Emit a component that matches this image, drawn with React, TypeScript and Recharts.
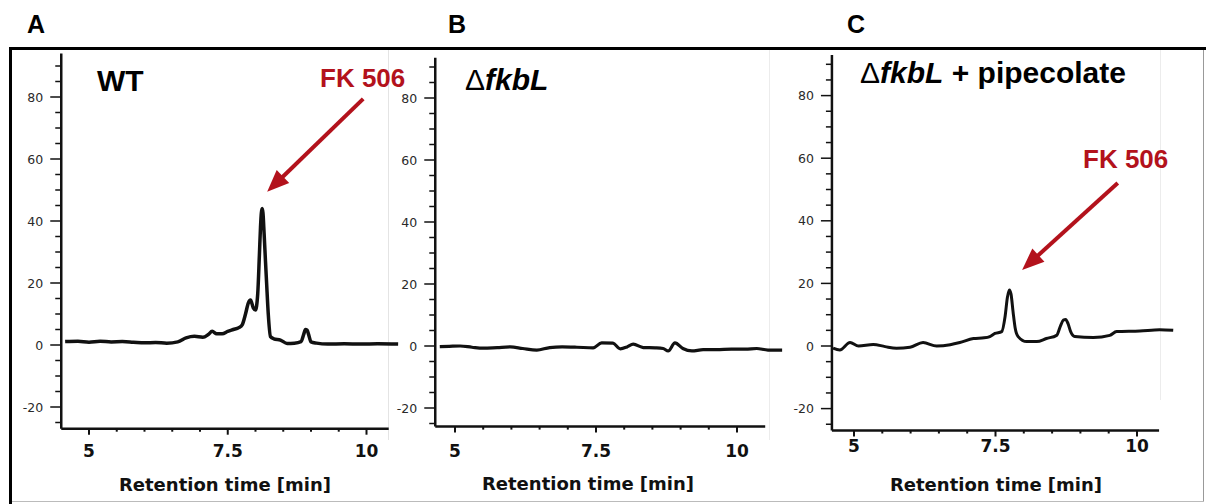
import React from "react";
import { LineChart, Line, XAxis, YAxis, ReferenceLine } from "recharts";

// axis ticks (minor every 5 / 0.5, labels only on majors)
const yTicks = [-25, -20, -15, -10, -5, 0, 5, 10, 15, 20, 25, 30, 35, 40, 45, 50, 55, 60, 65, 70, 75, 80, 85, 90];
const yTickLabels = [-20, 0, 20, 40, 60, 80];
const xTicks = [5, 5.5, 6, 6.5, 7, 7.5, 8, 8.5, 9, 9.5, 10];
const xTickLabels = [5, 7.5, 10];

// A: WT
const wtTime = [4.57, 4.8, 5.0, 5.2, 5.4, 5.6, 5.8, 6.0, 6.2, 6.4, 6.6, 6.75, 6.9, 7.05, 7.15, 7.22, 7.3, 7.4, 7.5, 7.6, 7.7, 7.76, 7.82, 7.87, 7.91, 7.96, 8.0, 8.04, 8.07, 8.09, 8.105, 8.12, 8.135, 8.155, 8.18, 8.2, 8.23, 8.27, 8.33, 8.45, 8.57, 8.7, 8.82, 8.87, 8.9, 8.93, 8.96, 9.0, 9.1, 9.3, 9.6, 9.9, 10.2, 10.57];
const wtSignal = [1.1, 1.2, 0.9, 1.2, 1.0, 1.1, 0.9, 0.7, 0.8, 0.6, 1.0, 2.3, 2.8, 2.5, 3.4, 4.4, 3.6, 3.6, 4.4, 5.0, 5.6, 6.5, 10, 13.5, 14.5, 12, 11.3, 16.5, 29, 38, 42.5, 44, 42.5, 36, 27, 20, 10, 2.7, 2.0, 1.6, 0.5, 0.6, 1.1, 3.5, 5.0, 4.8, 3.2, 1.0, 0.6, 0.3, 0.4, 0.3, 0.4, 0.3];

// B: delta fkbL
const dlTime = [4.73, 4.9, 5.09, 5.3, 5.5, 5.75, 5.98, 6.2, 6.45, 6.68, 6.9, 7.16, 7.45, 7.6, 7.8, 7.93, 8.05, 8.16, 8.34, 8.55, 8.69, 8.78, 8.9, 9.04, 9.2, 9.4, 9.64, 9.9, 10.15, 10.35, 10.55, 10.8];
const dlSignal = [-0.2, -0.1, 0.0, -0.4, -0.7, -0.5, -0.3, -0.8, -1.3, -0.5, -0.3, -0.4, -0.6, 1.0, 0.9, -0.9, -0.3, 0.6, -0.5, -0.6, -0.8, -1.6, 1.0, -0.8, -1.6, -1.2, -1.2, -1.0, -1.0, -0.8, -1.3, -1.3];

// C: delta fkbL + pipecolate
const pipTime = [4.63, 4.75, 4.93, 5.08, 5.34, 5.55, 5.75, 5.99, 6.22, 6.46, 6.7, 6.87, 7.11, 7.3, 7.4, 7.49, 7.61, 7.67, 7.71, 7.745, 7.775, 7.81, 7.85, 7.9, 8.05, 8.23, 8.4, 8.58, 8.65, 8.7, 8.74, 8.78, 8.83, 8.9, 9.23, 9.52, 9.64, 10.05, 10.4, 10.64];
const pipSignal = [-0.7, -1.3, 1.1, 0.0, 0.5, -0.2, -0.7, -0.4, 1.1, 0.0, 0.4, 1.1, 2.4, 2.6, 3.0, 4.0, 4.6, 9.5, 15.5, 17.9, 16.5, 11, 5.5, 3.0, 1.4, 1.4, 2.4, 3.4, 6.5, 8.3, 8.5, 7.2, 4.5, 3.0, 2.7, 3.4, 4.6, 4.8, 5.2, 5.0];

const toRows = (t: number[], v: number[]) => t.map((x, i) => ({ t: x, v: v[i] }));

const RED = "#b3121c";
const SANS = "'Liberation Sans', Arial, sans-serif";
const DEJAVU = "'DejaVu Sans', sans-serif";

const YTick = (props: any) => {
  const { x, y, payload } = props;
  const major = yTickLabels.includes(payload.value);
  return (
    <g>
      <line x1={x - (major ? 11 : 6)} x2={x} y1={y} y2={y} stroke="#111" strokeWidth={1.5} />
      {major && (
        <text x={x - 18} y={y + 4.5} textAnchor="end" fontSize={12.5} fill="#2a2a2a" fontFamily={DEJAVU}>
          {payload.value}
        </text>
      )}
    </g>
  );
};

const makeXTick = (labelDy: number) => (props: any) => {
  const { x, y, payload } = props;
  const major = xTickLabels.includes(payload.value);
  return (
    <g>
      <line x1={x} x2={x} y1={y} y2={y + (major ? 6 : 3)} stroke="#111" strokeWidth={2} />
      {major && (
        <text x={x} y={y + labelDy} textAnchor="middle" fontSize={17} fontWeight="bold" fill="#111" fontFamily={DEJAVU}>
          {payload.value}
        </text>
      )}
    </g>
  );
};

const ArrowShape = (props: any) => {
  const { x1, y1, x2, y2 } = props;
  const dx = x2 - x1;
  const dy = y2 - y1;
  const len = Math.sqrt(dx * dx + dy * dy);
  const ux = dx / len;
  const uy = dy / len;
  const head = 22;
  const half = 9;
  const bx = x2 - ux * head;
  const by = y2 - uy * head;
  return (
    <g>
      <line x1={x1} y1={y1} x2={bx + ux * 2} y2={by + uy * 2} stroke={RED} strokeWidth={4} />
      <polygon
        points={`${x2},${y2} ${bx - uy * half},${by + ux * half} ${bx + uy * half},${by - ux * half}`}
        fill={RED}
      />
    </g>
  );
};

interface PanelProps {
  rows: { t: number; v: number }[];
  left: number;
  width: number;
  x5: number; // pixel of t = 5
  pxPerMin: number;
  xMin: number;
  xMax: number;
  axisEnd: number;
  y0: number; // pixel of signal 0
  pxPerUnit: number;
  yMin: number;
  yMax: number;
  labelDy: number;
  stroke: number;
  arrow?: { t1: number; v1: number; t2: number; v2: number };
}

function Panel(p: PanelProps) {
  const plotLeft = p.x5 + (p.xMin - 5) * p.pxPerMin;
  const plotRight = p.x5 + (p.xMax - 5) * p.pxPerMin;
  const plotTop = p.y0 - p.yMax * p.pxPerUnit;
  const plotBottom = p.y0 - p.yMin * p.pxPerUnit;
  const margin = {
    left: plotLeft - p.left - 40,
    right: p.left + p.width - plotRight,
    top: plotTop,
    bottom: 504 - plotBottom - 30,
  };
  return (
    <div style={{ position: "absolute", left: p.left, top: 0, width: p.width, height: 504 }}>
      <LineChart width={p.width} height={504} data={p.rows} margin={margin}>
        <XAxis
          type="number"
          dataKey="t"
          domain={[p.xMin, p.xMax]}
          ticks={xTicks}
          interval={0}
          height={30}
          axisLine={false}
          tickLine={false}
          tickSize={0}
          tickMargin={0}
          tick={makeXTick(p.labelDy)}
        />
        <YAxis
          type="number"
          domain={[p.yMin, p.yMax]}
          ticks={yTicks}
          interval={0}
          width={40}
          axisLine={{ stroke: "#111", strokeWidth: 2.5 }}
          tickLine={false}
          tickSize={0}
          tickMargin={0}
          tick={<YTick />}
        />
        <ReferenceLine
          segment={[
            { x: p.xMin, y: p.yMin },
            { x: p.axisEnd, y: p.yMin },
          ]}
          stroke="#111"
          strokeWidth={2.5}
          ifOverflow="visible"
        />
        {p.arrow && (
          <ReferenceLine
            segment={[
              { x: p.arrow.t1, y: p.arrow.v1 },
              { x: p.arrow.t2, y: p.arrow.v2 },
            ]}
            ifOverflow="visible"
            shape={ArrowShape}
          />
        )}
        <Line
          type="monotone"
          dataKey="v"
          stroke="#111"
          strokeWidth={p.stroke}
          dot={false}
          isAnimationActive={false}
          strokeLinejoin="round"
        />
      </LineChart>
    </div>
  );
}

export default function App() {
  return (
    <div style={{ position: "absolute", left: 0, top: 0, width: 1206, height: 504, background: "#fff", overflow: "hidden" }}>
      <svg width={1206} height={504} style={{ position: "absolute", left: 0, top: 0 }}>
        <line x1={388.5} x2={388.5} y1={50} y2={440} stroke="#e4e4e4" strokeWidth={1} />
        <line x1={769.5} x2={769.5} y1={50} y2={440} stroke="#ececec" strokeWidth={1} />
        <line x1={1160.5} x2={1160.5} y1={50} y2={400} stroke="#ececec" strokeWidth={1} />
      </svg>
      <Panel
        rows={toRows(wtTime, wtSignal)}
        left={0}
        width={410}
        x5={89}
        pxPerMin={55.5}
        xMin={4.5}
        xMax={10.6}
        axisEnd={10.4}
        y0={345}
        pxPerUnit={3.1}
        yMin={-27}
        yMax={94}
        labelDy={28}
        stroke={3.5}
        arrow={{ t1: 9.94, v1: 79.4, t2: 8.21, v2: 49.4 }}
      />
      <Panel
        rows={toRows(dlTime, dlSignal)}
        left={392}
        width={410}
        x5={455}
        pxPerMin={56.4}
        xMin={4.65}
        xMax={10.82}
        axisEnd={10.5}
        y0={346}
        pxPerUnit={3.1}
        yMin={-26}
        yMax={93}
        labelDy={30}
        stroke={3.2}
      />
      <Panel
        rows={toRows(pipTime, pipSignal)}
        left={780}
        width={426}
        x5={854}
        pxPerMin={56.6}
        xMin={4.61}
        xMax={10.66}
        axisEnd={10.39}
        y0={346}
        pxPerUnit={3.13}
        yMin={-27}
        yMax={93}
        labelDy={21.5}
        stroke={3}
        arrow={{ t1: 9.66, v1: 52.1, t2: 7.97, v2: 24.3 }}
      />
      <svg width={1206} height={504} style={{ position: "absolute", left: 0, top: 0, pointerEvents: "none" }}>
        {/* frame */}
        <line x1={9} x2={1206} y1={48.5} y2={48.5} stroke="#000" strokeWidth={3} />
        <line x1={10.5} x2={10.5} y1={47} y2={504} stroke="#000" strokeWidth={3} />
        <line x1={1203.5} x2={1203.5} y1={50} y2={502} stroke="#999" strokeWidth={1} />
        <line x1={12} x2={1204} y1={501.5} y2={501.5} stroke="#bbb" strokeWidth={1} />

        <g fontFamily={SANS} fontWeight="bold" fill="#000">
          <text x={27} y={33} fontSize={25}>A</text>
          <text x={448} y={33} fontSize={25}>B</text>
          <text x={847} y={33} fontSize={25}>C</text>

          <text x={97} y={91} fontSize={30}>WT</text>
          <text x={465} y={90} fontSize={30}>
            <tspan fontWeight="normal">Δ</tspan>
            <tspan fontStyle="italic">fkbL</tspan>
          </text>
          <text x={860} y={83} fontSize={30}>
            <tspan fontWeight="normal">Δ</tspan>
            <tspan fontStyle="italic">fkbL</tspan>
            <tspan> + pipecolate</tspan>
          </text>

          <text x={320} y={87} fontSize={26} fill={RED}>FK 506</text>
          <text x={1083} y={168} fontSize={26} fill={RED}>FK 506</text>
        </g>

        <g fontFamily={DEJAVU} fontWeight="bold" fontSize={18} fill="#111" textAnchor="middle">
          <text x={225} y={491}>Retention time [min]</text>
          <text x={588} y={490}>Retention time [min]</text>
          <text x={996} y={491}>Retention time [min]</text>
        </g>
      </svg>
    </div>
  );
}
